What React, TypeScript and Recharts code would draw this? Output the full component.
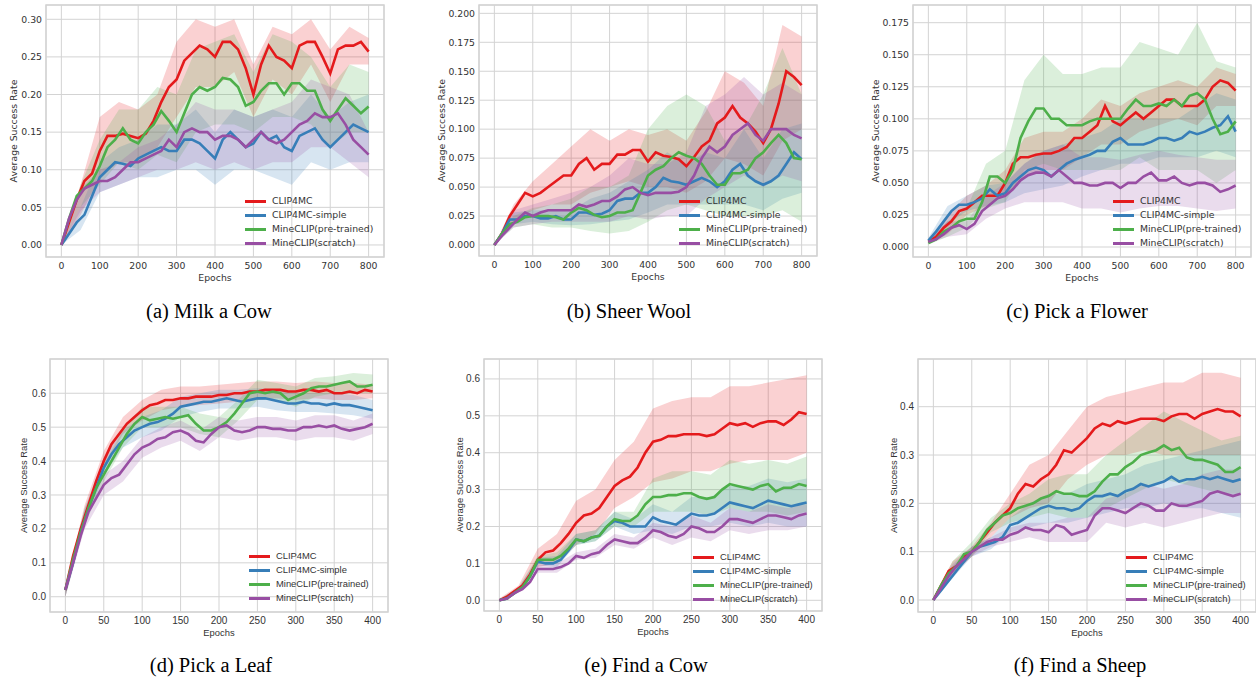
import React from "react"
import {
  ComposedChart,
  Line,
  Area,
  XAxis,
  YAxis,
  CartesianGrid,
  ReferenceArea,
  Legend,
} from "recharts"

// ---- shared ----
const SERIES_NAMES = ["CLIP4MC", "CLIP4MC-simple", "MineCLIP(pre-trained)", "MineCLIP(scratch)"]
const SERIES_COLORS = ["#e41a1c", "#377eb8", "#4daf4a", "#984ea3"]

const EPOCHS_800 = [0, 20, 40, 60, 80, 100, 120, 140, 160, 180, 200, 220, 240, 260, 280, 300, 320, 340, 360, 380, 400, 420, 440, 460, 480, 500, 520, 540, 560, 580, 600, 620, 640, 660, 680, 700, 720, 740, 760, 780, 800]
const BAND_EPOCHS_800 = [0, 50, 100, 150, 200, 250, 300, 350, 400, 450, 500, 550, 600, 650, 700, 750, 800]
const EPOCHS_400 = [0, 10, 20, 30, 40, 50, 60, 70, 80, 90, 100, 110, 120, 130, 140, 150, 160, 170, 180, 190, 200, 210, 220, 230, 240, 250, 260, 270, 280, 290, 300, 310, 320, 330, 340, 350, 360, 370, 380, 390, 400]
const BAND_EPOCHS_400 = [0, 25, 50, 75, 100, 125, 150, 175, 200, 225, 250, 275, 300, 325, 350, 375, 400]

const X_TICKS_800 = [0, 100, 200, 300, 400, 500, 600, 700, 800]
const X_TICKS_400 = [0, 50, 100, 150, 200, 250, 300, 350, 400]

// ---- (a) Milk a Cow ----
const milkRed = [0, 0.03, 0.06, 0.085, 0.095, 0.125, 0.145, 0.145, 0.148, 0.145, 0.142, 0.148, 0.165, 0.19, 0.21, 0.22, 0.245, 0.255, 0.265, 0.26, 0.25, 0.27, 0.27, 0.26, 0.235, 0.2, 0.24, 0.265, 0.25, 0.245, 0.235, 0.265, 0.27, 0.27, 0.25, 0.228, 0.26, 0.265, 0.265, 0.27, 0.257]
const milkBlue = [0, 0.015, 0.03, 0.04, 0.065, 0.09, 0.1, 0.11, 0.108, 0.105, 0.115, 0.12, 0.125, 0.13, 0.125, 0.125, 0.14, 0.14, 0.135, 0.125, 0.115, 0.14, 0.15, 0.14, 0.13, 0.135, 0.15, 0.14, 0.145, 0.13, 0.125, 0.145, 0.15, 0.155, 0.14, 0.13, 0.14, 0.15, 0.16, 0.155, 0.15]
const milkGreen = [0, 0.035, 0.065, 0.075, 0.085, 0.105, 0.13, 0.14, 0.155, 0.14, 0.135, 0.15, 0.16, 0.178, 0.165, 0.15, 0.175, 0.2, 0.21, 0.205, 0.21, 0.222, 0.22, 0.21, 0.185, 0.19, 0.205, 0.215, 0.215, 0.2, 0.215, 0.215, 0.205, 0.205, 0.18, 0.165, 0.18, 0.195, 0.185, 0.175, 0.184]
const milkPurple = [0, 0.035, 0.06, 0.075, 0.08, 0.085, 0.085, 0.09, 0.1, 0.11, 0.11, 0.115, 0.12, 0.125, 0.14, 0.13, 0.15, 0.155, 0.15, 0.15, 0.14, 0.145, 0.145, 0.14, 0.13, 0.14, 0.15, 0.14, 0.135, 0.14, 0.15, 0.16, 0.165, 0.175, 0.17, 0.17, 0.175, 0.16, 0.14, 0.13, 0.12]
const milkRedBand = [[0, 0], [0.04, 0.08], [0.09, 0.17], [0.11, 0.19], [0.11, 0.18], [0.13, 0.2], [0.17, 0.27], [0.21, 0.3], [0.21, 0.29], [0.23, 0.3], [0.17, 0.24], [0.22, 0.29], [0.2, 0.28], [0.24, 0.3], [0.19, 0.26], [0.24, 0.29], [0.24, 0.275]]
const milkBlueBand = [[0, 0], [0.02, 0.05], [0.07, 0.11], [0.08, 0.13], [0.09, 0.14], [0.09, 0.16], [0.1, 0.16], [0.1, 0.18], [0.08, 0.15], [0.1, 0.18], [0.1, 0.17], [0.09, 0.18], [0.08, 0.17], [0.11, 0.2], [0.1, 0.17], [0.11, 0.19], [0.11, 0.2]]
const milkGreenBand = [[0, 0], [0.05, 0.08], [0.08, 0.14], [0.11, 0.18], [0.1, 0.18], [0.12, 0.21], [0.11, 0.2], [0.15, 0.26], [0.16, 0.27], [0.16, 0.28], [0.15, 0.23], [0.17, 0.28], [0.17, 0.27], [0.16, 0.25], [0.13, 0.21], [0.15, 0.24], [0.15, 0.23]]
const milkPurpleBand = [[0, 0], [0.045, 0.075], [0.07, 0.1], [0.08, 0.11], [0.09, 0.13], [0.1, 0.14], [0.1, 0.16], [0.11, 0.19], [0.1, 0.18], [0.11, 0.18], [0.1, 0.17], [0.11, 0.18], [0.11, 0.19], [0.13, 0.22], [0.13, 0.21], [0.11, 0.2], [0.09, 0.15]]
const milkYTicks = [0, 0.05, 0.1, 0.15, 0.2, 0.25, 0.3]

// ---- (b) Sheer Wool ----
const woolRed = [0, 0.01, 0.025, 0.035, 0.045, 0.042, 0.045, 0.05, 0.055, 0.06, 0.06, 0.07, 0.075, 0.065, 0.07, 0.07, 0.078, 0.078, 0.082, 0.082, 0.072, 0.08, 0.077, 0.076, 0.074, 0.068, 0.076, 0.085, 0.09, 0.105, 0.11, 0.12, 0.11, 0.105, 0.098, 0.088, 0.1, 0.122, 0.15, 0.145, 0.138]
const woolBlue = [0, 0.01, 0.022, 0.022, 0.025, 0.025, 0.023, 0.023, 0.025, 0.022, 0.022, 0.028, 0.028, 0.026, 0.027, 0.03, 0.038, 0.04, 0.04, 0.045, 0.045, 0.05, 0.058, 0.055, 0.054, 0.052, 0.055, 0.058, 0.055, 0.05, 0.055, 0.065, 0.07, 0.06, 0.055, 0.052, 0.055, 0.06, 0.07, 0.08, 0.074]
const woolGreen = [0, 0.01, 0.018, 0.02, 0.024, 0.025, 0.025, 0.025, 0.024, 0.022, 0.028, 0.032, 0.03, 0.026, 0.024, 0.025, 0.028, 0.028, 0.03, 0.045, 0.06, 0.065, 0.068, 0.075, 0.08, 0.077, 0.075, 0.07, 0.06, 0.052, 0.052, 0.062, 0.062, 0.065, 0.075, 0.08, 0.088, 0.095, 0.088, 0.075, 0.074]
const woolPurple = [0, 0.008, 0.015, 0.022, 0.028, 0.025, 0.028, 0.03, 0.03, 0.03, 0.03, 0.035, 0.033, 0.035, 0.038, 0.038, 0.042, 0.048, 0.05, 0.045, 0.043, 0.045, 0.045, 0.045, 0.046, 0.05, 0.06, 0.075, 0.085, 0.08, 0.085, 0.095, 0.1, 0.105, 0.095, 0.09, 0.1, 0.1, 0.1, 0.095, 0.092]
const woolRedBand = [[0, 0], [0.02, 0.035], [0.03, 0.055], [0.035, 0.07], [0.035, 0.085], [0.045, 0.1], [0.05, 0.09], [0.055, 0.1], [0.05, 0.095], [0.05, 0.1], [0.045, 0.09], [0.055, 0.115], [0.075, 0.15], [0.07, 0.14], [0.06, 0.12], [0.09, 0.19], [0.1, 0.18]]
const woolBlueBand = [[0, 0], [0.018, 0.028], [0.02, 0.03], [0.018, 0.03], [0.017, 0.03], [0.018, 0.04], [0.02, 0.045], [0.022, 0.055], [0.028, 0.065], [0.035, 0.08], [0.035, 0.07], [0.035, 0.08], [0.035, 0.075], [0.035, 0.1], [0.03, 0.075], [0.04, 0.1], [0.045, 0.105]]
const woolGreenBand = [[0, 0], [0.015, 0.025], [0.018, 0.032], [0.015, 0.035], [0.015, 0.04], [0.012, 0.05], [0.01, 0.05], [0.012, 0.06], [0.02, 0.1], [0.03, 0.12], [0.035, 0.13], [0.03, 0.12], [0.025, 0.09], [0.025, 0.1], [0.025, 0.13], [0.03, 0.17], [0.02, 0.13]]
const woolPurpleBand = [[0, 0], [0.015, 0.03], [0.018, 0.035], [0.02, 0.04], [0.02, 0.045], [0.02, 0.05], [0.02, 0.06], [0.025, 0.075], [0.022, 0.07], [0.025, 0.07], [0.025, 0.08], [0.04, 0.12], [0.05, 0.13], [0.06, 0.145], [0.05, 0.13], [0.06, 0.14], [0.055, 0.13]]
const woolYTicks = [0, 0.025, 0.05, 0.075, 0.1, 0.125, 0.15, 0.175, 0.2]

// ---- (c) Pick a Flower ----
const flowerRed = [0.004, 0.008, 0.015, 0.02, 0.028, 0.03, 0.035, 0.04, 0.04, 0.04, 0.05, 0.065, 0.07, 0.07, 0.072, 0.073, 0.073, 0.075, 0.078, 0.085, 0.085, 0.09, 0.095, 0.11, 0.098, 0.095, 0.1, 0.105, 0.1, 0.105, 0.11, 0.115, 0.115, 0.11, 0.11, 0.11, 0.115, 0.125, 0.13, 0.128, 0.122]
const flowerBlue = [0.005, 0.012, 0.02, 0.028, 0.033, 0.033, 0.035, 0.038, 0.045, 0.04, 0.042, 0.05, 0.055, 0.06, 0.062, 0.06, 0.055, 0.06, 0.065, 0.068, 0.07, 0.072, 0.075, 0.075, 0.082, 0.085, 0.08, 0.08, 0.08, 0.082, 0.085, 0.085, 0.083, 0.085, 0.09, 0.088, 0.09, 0.093, 0.095, 0.102, 0.09]
const flowerGreen = [0.003, 0.006, 0.012, 0.015, 0.02, 0.022, 0.022, 0.035, 0.055, 0.055, 0.05, 0.06, 0.085, 0.098, 0.108, 0.108, 0.1, 0.1, 0.095, 0.095, 0.095, 0.098, 0.1, 0.1, 0.1, 0.1, 0.108, 0.115, 0.11, 0.11, 0.112, 0.11, 0.115, 0.11, 0.118, 0.12, 0.115, 0.1, 0.088, 0.09, 0.098]
const flowerPurple = [0.004, 0.006, 0.01, 0.015, 0.017, 0.014, 0.018, 0.028, 0.033, 0.038, 0.04, 0.045, 0.052, 0.056, 0.058, 0.058, 0.055, 0.06, 0.055, 0.05, 0.05, 0.048, 0.048, 0.05, 0.05, 0.046, 0.05, 0.05, 0.055, 0.058, 0.052, 0.052, 0.055, 0.05, 0.048, 0.05, 0.05, 0.048, 0.043, 0.045, 0.048]
const flowerRedBand = [[0.003, 0.005], [0.01, 0.025], [0.025, 0.04], [0.032, 0.048], [0.04, 0.06], [0.055, 0.085], [0.06, 0.09], [0.06, 0.09], [0.07, 0.1], [0.08, 0.115], [0.08, 0.11], [0.09, 0.12], [0.095, 0.125], [0.1, 0.13], [0.095, 0.125], [0.11, 0.14], [0.11, 0.135]]
const flowerBlueBand = [[0.003, 0.007], [0.018, 0.032], [0.028, 0.04], [0.032, 0.048], [0.035, 0.05], [0.042, 0.065], [0.045, 0.075], [0.048, 0.08], [0.055, 0.085], [0.06, 0.09], [0.065, 0.1], [0.065, 0.1], [0.07, 0.1], [0.07, 0.1], [0.07, 0.11], [0.075, 0.12], [0.07, 0.115]]
const flowerGreenBand = [[0.002, 0.004], [0.008, 0.02], [0.015, 0.03], [0.03, 0.065], [0.035, 0.075], [0.06, 0.13], [0.065, 0.15], [0.06, 0.135], [0.06, 0.135], [0.06, 0.14], [0.06, 0.14], [0.07, 0.16], [0.06, 0.155], [0.06, 0.15], [0.06, 0.175], [0.05, 0.145], [0.06, 0.14]]
const flowerPurpleBand = [[0.003, 0.005], [0.008, 0.02], [0.01, 0.02], [0.022, 0.04], [0.03, 0.05], [0.035, 0.065], [0.035, 0.075], [0.035, 0.08], [0.03, 0.07], [0.03, 0.07], [0.027, 0.068], [0.03, 0.072], [0.032, 0.075], [0.032, 0.072], [0.03, 0.07], [0.028, 0.068], [0.03, 0.068]]
const flowerYTicks = [0, 0.025, 0.05, 0.075, 0.1, 0.125, 0.15, 0.175]

// ---- (d) Pick a Leaf ----
const leafRed = [0.02, 0.12, 0.2, 0.27, 0.34, 0.4, 0.45, 0.48, 0.51, 0.53, 0.55, 0.565, 0.57, 0.58, 0.58, 0.585, 0.585, 0.59, 0.59, 0.59, 0.595, 0.595, 0.6, 0.6, 0.605, 0.605, 0.61, 0.61, 0.61, 0.605, 0.605, 0.61, 0.61, 0.605, 0.61, 0.6, 0.6, 0.605, 0.6, 0.61, 0.605]
const leafBlue = [0.02, 0.1, 0.19, 0.26, 0.32, 0.38, 0.42, 0.45, 0.47, 0.49, 0.5, 0.51, 0.515, 0.525, 0.54, 0.56, 0.565, 0.57, 0.575, 0.575, 0.58, 0.585, 0.58, 0.575, 0.58, 0.585, 0.585, 0.58, 0.575, 0.57, 0.57, 0.575, 0.57, 0.57, 0.565, 0.57, 0.565, 0.565, 0.56, 0.555, 0.55]
const leafGreen = [0.02, 0.11, 0.19, 0.26, 0.32, 0.36, 0.4, 0.44, 0.48, 0.51, 0.53, 0.52, 0.525, 0.53, 0.525, 0.53, 0.535, 0.51, 0.49, 0.49, 0.5, 0.515, 0.54, 0.57, 0.6, 0.605, 0.6, 0.605, 0.6, 0.58, 0.59, 0.6, 0.615, 0.62, 0.62, 0.625, 0.63, 0.635, 0.62, 0.62, 0.625]
const leafPurple = [0.02, 0.1, 0.18, 0.25, 0.29, 0.33, 0.35, 0.36, 0.39, 0.42, 0.44, 0.45, 0.465, 0.47, 0.485, 0.49, 0.48, 0.46, 0.455, 0.48, 0.5, 0.505, 0.49, 0.485, 0.49, 0.5, 0.5, 0.495, 0.495, 0.49, 0.49, 0.5, 0.5, 0.505, 0.5, 0.505, 0.495, 0.49, 0.495, 0.5, 0.51]
const leafRedBand = [[0, 0.03], [0.22, 0.27], [0.38, 0.43], [0.48, 0.53], [0.52, 0.58], [0.55, 0.61], [0.56, 0.62], [0.565, 0.62], [0.57, 0.625], [0.575, 0.63], [0.58, 0.635], [0.585, 0.635], [0.58, 0.63], [0.585, 0.635], [0.58, 0.63], [0.58, 0.63], [0.585, 0.625]]
const leafBlueBand = [[0, 0.03], [0.21, 0.26], [0.36, 0.41], [0.44, 0.49], [0.47, 0.53], [0.49, 0.55], [0.53, 0.59], [0.545, 0.6], [0.555, 0.61], [0.555, 0.61], [0.56, 0.615], [0.55, 0.61], [0.545, 0.6], [0.545, 0.6], [0.54, 0.6], [0.535, 0.595], [0.525, 0.58]]
const leafGreenBand = [[0, 0.03], [0.21, 0.26], [0.34, 0.39], [0.44, 0.49], [0.5, 0.56], [0.5, 0.56], [0.5, 0.56], [0.48, 0.54], [0.47, 0.53], [0.52, 0.58], [0.58, 0.64], [0.58, 0.63], [0.56, 0.62], [0.59, 0.645], [0.6, 0.65], [0.6, 0.66], [0.6, 0.655]]
const leafPurpleBand = [[0, 0.03], [0.2, 0.25], [0.3, 0.36], [0.34, 0.4], [0.41, 0.47], [0.44, 0.5], [0.46, 0.52], [0.43, 0.49], [0.47, 0.53], [0.46, 0.52], [0.47, 0.53], [0.47, 0.53], [0.46, 0.52], [0.47, 0.535], [0.47, 0.535], [0.46, 0.52], [0.48, 0.54]]
const leafYTicks = [0, 0.1, 0.2, 0.3, 0.4, 0.5, 0.6]

// ---- (e) Find a Cow ----
const cowRed = [0, 0.01, 0.025, 0.04, 0.07, 0.11, 0.13, 0.135, 0.155, 0.18, 0.21, 0.23, 0.235, 0.25, 0.28, 0.31, 0.325, 0.335, 0.36, 0.4, 0.43, 0.435, 0.445, 0.445, 0.45, 0.45, 0.45, 0.445, 0.45, 0.465, 0.48, 0.475, 0.48, 0.47, 0.48, 0.485, 0.485, 0.475, 0.49, 0.51, 0.505]
const cowBlue = [0, 0.005, 0.02, 0.035, 0.065, 0.105, 0.1, 0.1, 0.11, 0.135, 0.165, 0.16, 0.17, 0.175, 0.2, 0.215, 0.21, 0.2, 0.2, 0.2, 0.225, 0.215, 0.21, 0.205, 0.22, 0.235, 0.23, 0.23, 0.235, 0.25, 0.265, 0.26, 0.255, 0.25, 0.26, 0.27, 0.265, 0.26, 0.255, 0.26, 0.265]
const cowGreen = [0, 0.005, 0.02, 0.035, 0.065, 0.11, 0.11, 0.11, 0.12, 0.14, 0.165, 0.16, 0.17, 0.175, 0.2, 0.22, 0.215, 0.215, 0.23, 0.26, 0.28, 0.28, 0.285, 0.285, 0.29, 0.29, 0.28, 0.275, 0.28, 0.3, 0.315, 0.31, 0.305, 0.3, 0.31, 0.315, 0.295, 0.305, 0.305, 0.315, 0.31]
const cowPurple = [0, 0.005, 0.02, 0.03, 0.05, 0.085, 0.085, 0.085, 0.09, 0.1, 0.12, 0.115, 0.125, 0.13, 0.15, 0.165, 0.16, 0.155, 0.155, 0.17, 0.19, 0.185, 0.175, 0.17, 0.18, 0.2, 0.195, 0.185, 0.185, 0.2, 0.22, 0.22, 0.215, 0.21, 0.22, 0.23, 0.23, 0.225, 0.22, 0.23, 0.235]
const cowRedBand = [[0, 0.005], [0.025, 0.04], [0.09, 0.14], [0.1, 0.18], [0.15, 0.27], [0.18, 0.3], [0.25, 0.38], [0.28, 0.43], [0.32, 0.52], [0.33, 0.54], [0.35, 0.55], [0.35, 0.55], [0.37, 0.58], [0.38, 0.58], [0.38, 0.59], [0.38, 0.6], [0.4, 0.61]]
const cowBlueBand = [[0, 0.003], [0.025, 0.035], [0.095, 0.115], [0.09, 0.12], [0.15, 0.18], [0.16, 0.19], [0.2, 0.24], [0.18, 0.22], [0.19, 0.26], [0.18, 0.24], [0.2, 0.28], [0.2, 0.28], [0.21, 0.31], [0.2, 0.31], [0.21, 0.33], [0.2, 0.32], [0.2, 0.33]]
const cowGreenBand = [[0, 0.003], [0.025, 0.035], [0.1, 0.12], [0.1, 0.13], [0.15, 0.18], [0.16, 0.19], [0.2, 0.24], [0.2, 0.24], [0.24, 0.33], [0.24, 0.35], [0.24, 0.35], [0.23, 0.34], [0.25, 0.38], [0.24, 0.37], [0.24, 0.38], [0.23, 0.37], [0.24, 0.39]]
const cowPurpleBand = [[0, 0.003], [0.02, 0.03], [0.075, 0.095], [0.075, 0.1], [0.11, 0.13], [0.115, 0.14], [0.15, 0.18], [0.14, 0.17], [0.17, 0.21], [0.15, 0.2], [0.17, 0.23], [0.16, 0.21], [0.19, 0.25], [0.18, 0.24], [0.19, 0.26], [0.19, 0.25], [0.2, 0.26]]
const cowYTicks = [0, 0.1, 0.2, 0.3, 0.4, 0.5, 0.6]

// ---- (f) Find a Sheep ----
const sheepRed = [0, 0.03, 0.06, 0.07, 0.09, 0.1, 0.12, 0.14, 0.16, 0.175, 0.19, 0.22, 0.24, 0.235, 0.25, 0.26, 0.28, 0.31, 0.305, 0.32, 0.335, 0.355, 0.365, 0.36, 0.37, 0.365, 0.37, 0.375, 0.375, 0.375, 0.37, 0.38, 0.385, 0.385, 0.375, 0.385, 0.39, 0.395, 0.39, 0.39, 0.38]
const sheepBlue = [0, 0.02, 0.04, 0.06, 0.08, 0.1, 0.11, 0.115, 0.12, 0.13, 0.155, 0.16, 0.17, 0.18, 0.19, 0.195, 0.19, 0.19, 0.185, 0.19, 0.205, 0.215, 0.215, 0.22, 0.215, 0.225, 0.23, 0.24, 0.235, 0.24, 0.245, 0.255, 0.245, 0.25, 0.25, 0.255, 0.25, 0.255, 0.25, 0.245, 0.25]
const sheepGreen = [0, 0.03, 0.055, 0.07, 0.095, 0.1, 0.12, 0.145, 0.16, 0.175, 0.18, 0.19, 0.195, 0.2, 0.21, 0.215, 0.225, 0.22, 0.22, 0.215, 0.215, 0.225, 0.245, 0.26, 0.26, 0.275, 0.285, 0.3, 0.305, 0.31, 0.32, 0.31, 0.315, 0.295, 0.29, 0.29, 0.285, 0.28, 0.265, 0.265, 0.275]
const sheepPurple = [0, 0.025, 0.05, 0.07, 0.085, 0.1, 0.11, 0.12, 0.125, 0.125, 0.135, 0.14, 0.15, 0.145, 0.145, 0.14, 0.155, 0.15, 0.135, 0.14, 0.145, 0.175, 0.19, 0.19, 0.185, 0.18, 0.19, 0.2, 0.195, 0.185, 0.185, 0.2, 0.195, 0.195, 0.2, 0.205, 0.22, 0.225, 0.22, 0.215, 0.22]
const sheepRedBand = [[0, 0.005], [0.055, 0.08], [0.09, 0.11], [0.13, 0.16], [0.17, 0.22], [0.19, 0.28], [0.2, 0.3], [0.25, 0.35], [0.28, 0.4], [0.3, 0.42], [0.3, 0.43], [0.31, 0.44], [0.3, 0.45], [0.3, 0.45], [0.3, 0.47], [0.3, 0.47], [0.3, 0.46]]
const sheepBlueBand = [[0, 0.005], [0.045, 0.07], [0.09, 0.11], [0.105, 0.13], [0.14, 0.17], [0.15, 0.2], [0.16, 0.22], [0.16, 0.22], [0.17, 0.24], [0.18, 0.25], [0.19, 0.26], [0.19, 0.28], [0.2, 0.29], [0.19, 0.3], [0.19, 0.31], [0.18, 0.32], [0.17, 0.33]]
const sheepGreenBand = [[0, 0.005], [0.055, 0.08], [0.09, 0.12], [0.14, 0.17], [0.16, 0.2], [0.17, 0.22], [0.18, 0.25], [0.17, 0.26], [0.17, 0.26], [0.19, 0.3], [0.21, 0.33], [0.23, 0.36], [0.25, 0.39], [0.24, 0.37], [0.23, 0.35], [0.22, 0.33], [0.22, 0.34]]
const sheepPurpleBand = [[0, 0.005], [0.05, 0.075], [0.09, 0.11], [0.11, 0.13], [0.12, 0.15], [0.13, 0.16], [0.12, 0.16], [0.12, 0.17], [0.12, 0.17], [0.16, 0.21], [0.15, 0.22], [0.16, 0.24], [0.15, 0.23], [0.16, 0.24], [0.17, 0.26], [0.18, 0.27], [0.18, 0.27]]
const sheepYTicks = [0, 0.1, 0.2, 0.3, 0.4]

// ---- layout ----
const Y_AXIS_W = 60
const X_AXIS_H = 34
const PAD = 4
const TOP_FONT = '"DejaVu Sans", sans-serif'
const BOTTOM_FONT = '"Liberation Sans", Arial, sans-serif'
const CAPTION_FONT = '"Liberation Serif", "Times New Roman", serif'
const TEXT_COLOR = "#333"

const PANELS = [
  {
    caption: "(a) Milk a Cow", captionX: 209, captionTop: 301,
    x: 46, y: 5, w: 338, h: 252, xDomain: [-40, 840], xTicks: X_TICKS_800,
    yDomain: [-0.016, 0.319], yTicks: milkYTicks, digits: 2, yLabelGap: 33,
    lineX: EPOCHS_800, bandX: BAND_EPOCHS_800,
    means: [milkRed, milkBlue, milkGreen, milkPurple],
    bands: [milkRedBand, milkBlueBand, milkGreenBand, milkPurpleBand],
    font: TOP_FONT, fontSize: 9.3, tickSize: 9.3, legendInset: 139, legendTop: 189,
  },
  {
    caption: "(b) Sheer Wool", captionX: 629, captionTop: 301,
    x: 479, y: 5, w: 338, h: 251, xDomain: [-40, 840], xTicks: X_TICKS_800,
    yDomain: [-0.0095, 0.2072], yTicks: woolYTicks, digits: 3, yLabelGap: 38,
    lineX: EPOCHS_800, bandX: BAND_EPOCHS_800,
    means: [woolRed, woolBlue, woolGreen, woolPurple],
    bands: [woolRedBand, woolBlueBand, woolGreenBand, woolPurpleBand],
    font: TOP_FONT, fontSize: 9.3, tickSize: 9.3, legendInset: 138, legendTop: 189,
  },
  {
    caption: "(c) Pick a Flower", captionX: 1077, captionTop: 301,
    x: 913, y: 5, w: 338, h: 252, xDomain: [-40, 840], xTicks: X_TICKS_800,
    yDomain: [-0.0078, 0.1888], yTicks: flowerYTicks, digits: 3, yLabelGap: 38,
    lineX: EPOCHS_800, bandX: BAND_EPOCHS_800,
    means: [flowerRed, flowerBlue, flowerGreen, flowerPurple],
    bands: [flowerRedBand, flowerBlueBand, flowerGreenBand, flowerPurpleBand],
    font: TOP_FONT, fontSize: 9.3, tickSize: 9.3, legendInset: 138, legendTop: 189,
  },
  {
    caption: "(d) Pick a Leaf", captionX: 211, captionTop: 655,
    x: 50, y: 359, w: 338, h: 253, xDomain: [-20, 420], xTicks: X_TICKS_400,
    yDomain: [-0.045, 0.701], yTicks: leafYTicks, digits: 1, yLabelGap: 27,
    lineX: EPOCHS_400, bandX: BAND_EPOCHS_400,
    means: [leafRed, leafBlue, leafGreen, leafPurple],
    bands: [leafRedBand, leafBlueBand, leafGreenBand, leafPurpleBand],
    font: BOTTOM_FONT, fontSize: 9.4, tickSize: 10, legendInset: 139, legendTop: 190,
  },
  {
    caption: "(e) Find a Cow", captionX: 646, captionTop: 655,
    x: 484, y: 359, w: 338, h: 252, xDomain: [-20, 420], xTicks: X_TICKS_400,
    yDomain: [-0.029, 0.654], yTicks: cowYTicks, digits: 1, yLabelGap: 25,
    lineX: EPOCHS_400, bandX: BAND_EPOCHS_400,
    means: [cowRed, cowBlue, cowGreen, cowPurple],
    bands: [cowRedBand, cowBlueBand, cowGreenBand, cowPurpleBand],
    font: BOTTOM_FONT, fontSize: 9.4, tickSize: 10, legendInset: 129, legendTop: 191,
  },
  {
    caption: "(f) Find a Sheep", captionX: 1080, captionTop: 655,
    x: 918, y: 359, w: 338, h: 253, xDomain: [-20, 420], xTicks: X_TICKS_400,
    yDomain: [-0.0248, 0.4987], yTicks: sheepYTicks, digits: 1, yLabelGap: 25,
    lineX: EPOCHS_400, bandX: BAND_EPOCHS_400,
    means: [sheepRed, sheepBlue, sheepGreen, sheepPurple],
    bands: [sheepRedBand, sheepBlueBand, sheepGreenBand, sheepPurpleBand],
    font: BOTTOM_FONT, fontSize: 9.4, tickSize: 10, legendInset: 130, legendTop: 191,
  },
]

// merge mean lines and bands into one table keyed by epoch
function buildRows(lineX: number[], bandX: number[], means: number[][], bands: number[][][]) {
  const xs = Array.from(new Set([...lineX, ...bandX])).sort((a, b) => a - b)
  return xs.map((x) => {
    const row: Record<string, any> = { x }
    const i = lineX.indexOf(x)
    const j = bandX.indexOf(x)
    means.forEach((m, k) => {
      if (i >= 0) row["m" + k] = m[i]
    })
    bands.forEach((b, k) => {
      if (j >= 0) row["b" + k] = b[j]
    })
    return row
  })
}

function Panel({ p }: { p: (typeof PANELS)[number] }) {
  const rows = buildRows(p.lineX, p.bandX, p.means, p.bands)
  const width = p.w + Y_AXIS_W + PAD
  const height = p.h + PAD + X_AXIS_H
  const textProps = { fontFamily: p.font, fontSize: p.fontSize, fill: TEXT_COLOR }

  const yLabel = (props: any) => {
    const vb = props.viewBox || {}
    const cx = vb.x + vb.width - p.yLabelGap
    const cy = vb.y + vb.height / 2
    return (
      <text x={cx} y={cy} transform={`rotate(-90, ${cx}, ${cy})`} textAnchor="middle" dominantBaseline="central" {...textProps}>
        Average Success Rate
      </text>
    )
  }
  const xLabel = (props: any) => {
    const vb = props.viewBox || {}
    return (
      <text x={vb.x + vb.width / 2} y={vb.y + 20} textAnchor="middle" dominantBaseline="central" {...textProps}>
        Epochs
      </text>
    )
  }

  const legend = () => (
    <div style={{ fontFamily: p.font, fontSize: p.fontSize, color: TEXT_COLOR, lineHeight: "14px" }}>
      {SERIES_NAMES.map((name, k) => (
        <div key={name} style={{ display: "flex", alignItems: "center", height: 14, whiteSpace: "nowrap" }}>
          <span style={{ display: "inline-block", width: 21, height: 3, background: SERIES_COLORS[k], marginRight: 6 }} />
          <span>{name}</span>
        </div>
      ))}
    </div>
  )

  return (
    <>
      <div style={{ position: "absolute", left: p.x - Y_AXIS_W, top: p.y - PAD }}>
        <ComposedChart width={width} height={height} data={rows} margin={{ top: PAD, right: PAD, left: 0, bottom: 0 }}>
          <CartesianGrid stroke="#d3d3d3" strokeWidth={1} />
          <XAxis
            dataKey="x"
            type="number"
            domain={p.xDomain}
            ticks={p.xTicks}
            allowDataOverflow
            interval={0}
            height={X_AXIS_H}
            axisLine={false}
            tickLine={false}
            tickSize={3}
            tickMargin={2}
            tick={{ fontFamily: p.font, fontSize: p.tickSize, fill: TEXT_COLOR }}
            label={xLabel}
          />
          <YAxis
            type="number"
            domain={p.yDomain}
            ticks={p.yTicks}
            allowDataOverflow
            interval={0}
            width={Y_AXIS_W}
            axisLine={false}
            tickLine={false}
            tickSize={3}
            tickMargin={1}
            tickFormatter={(v: number) => v.toFixed(p.digits)}
            tick={{ fontFamily: p.font, fontSize: p.tickSize, fill: TEXT_COLOR }}
            label={yLabel}
          />
          {SERIES_COLORS.map((c, k) => (
            <Area
              key={"b" + k}
              type="linear"
              dataKey={"b" + k}
              stroke="none"
              fill={c}
              fillOpacity={0.2}
              connectNulls
              activeDot={false}
              isAnimationActive={false}
            />
          ))}
          {SERIES_COLORS.map((c, k) => (
            <Line
              key={"m" + k}
              type="linear"
              dataKey={"m" + k}
              stroke={c}
              strokeWidth={2.6}
              dot={false}
              activeDot={false}
              connectNulls
              isAnimationActive={false}
            />
          ))}
          <ReferenceArea
            x1={p.xDomain[0]}
            x2={p.xDomain[1]}
            y1={p.yDomain[0]}
            y2={p.yDomain[1]}
            fill="none"
            stroke="#d3d3d3"
            strokeWidth={1.5}
          />
          <Legend
            layout="vertical"
            align="center"
            verticalAlign="middle"
            content={legend}
            wrapperStyle={{ left: Y_AXIS_W + p.w - p.legendInset, top: PAD + p.legendTop, width: "auto", height: "auto" }}
          />
        </ComposedChart>
      </div>
      <div
        style={{
          position: "absolute",
          left: p.captionX - 150,
          top: p.captionTop,
          width: 300,
          textAlign: "center",
          fontFamily: CAPTION_FONT,
          fontSize: 20.5,
          lineHeight: "20px",
          color: "#000",
        }}
      >
        {p.caption}
      </div>
    </>
  )
}

export default function App() {
  return (
    <div style={{ position: "absolute", left: 0, top: 0, width: 1256, height: 679, overflow: "hidden", background: "#fff" }}>
      {PANELS.map((p) => (
        <Panel key={p.caption} p={p} />
      ))}
    </div>
  )
}
